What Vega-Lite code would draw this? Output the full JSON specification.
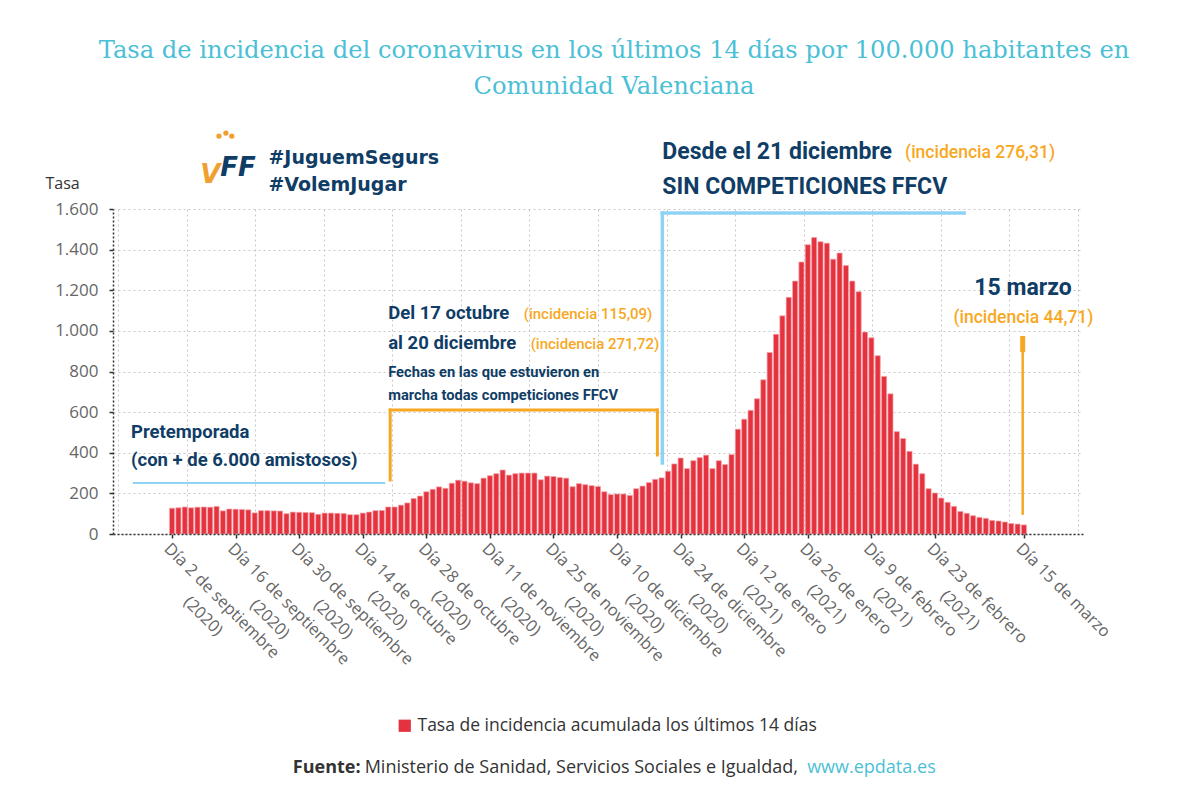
{
"$schema": "https://vega.github.io/schema/vega-lite/v6.json",
"width": 970, "height": 325,
"autosize": {"type": "none"},
"padding": {"left": 113, "top": 209, "right": 117, "bottom": 261},
"background": "white",
"config": {"view": {"stroke": null}, "font": "Open Sans"},
"title": {"text": ["Tasa de incidencia del coronavirus en los últimos 14 días por 100.000 habitantes en", "Comunidad Valenciana"], "font": "DejaVu Serif", "fontSize": 24.2, "fontWeight": "normal", "color": "#4bbfd6", "anchor": "middle", "frame": "group", "dx": 16, "offset": 31, "lineHeight": 36},
"resolve": {"axis": {"x": "independent", "y": "independent"}},
"layer": [
{
"data": {"values": [
{"n":0,"fecha":"2020-09-02","tasa":127},{"n":1,"fecha":"2020-09-03","tasa":129},{"n":2,"fecha":"2020-09-04","tasa":133},{"n":3,"fecha":"2020-09-07","tasa":129},{"n":4,"fecha":"2020-09-08","tasa":132},{"n":5,"fecha":"2020-09-09","tasa":133},{"n":6,"fecha":"2020-09-10","tasa":132},{"n":7,"fecha":"2020-09-11","tasa":136},{"n":8,"fecha":"2020-09-14","tasa":114},{"n":9,"fecha":"2020-09-15","tasa":123},
{"n":10,"fecha":"2020-09-16","tasa":122},{"n":11,"fecha":"2020-09-17","tasa":121},{"n":12,"fecha":"2020-09-18","tasa":119},{"n":13,"fecha":"2020-09-21","tasa":104},{"n":14,"fecha":"2020-09-22","tasa":115},{"n":15,"fecha":"2020-09-23","tasa":115},{"n":16,"fecha":"2020-09-24","tasa":114},{"n":17,"fecha":"2020-09-25","tasa":113},{"n":18,"fecha":"2020-09-28","tasa":100},{"n":19,"fecha":"2020-09-29","tasa":108},
{"n":20,"fecha":"2020-09-30","tasa":107},{"n":21,"fecha":"2020-10-01","tasa":106},{"n":22,"fecha":"2020-10-02","tasa":105},{"n":23,"fecha":"2020-10-05","tasa":97},{"n":24,"fecha":"2020-10-06","tasa":103},{"n":25,"fecha":"2020-10-07","tasa":103},{"n":26,"fecha":"2020-10-08","tasa":102},{"n":27,"fecha":"2020-10-09","tasa":101},{"n":28,"fecha":"2020-10-12","tasa":95},{"n":29,"fecha":"2020-10-13","tasa":95},
{"n":30,"fecha":"2020-10-14","tasa":103},{"n":31,"fecha":"2020-10-15","tasa":108},{"n":32,"fecha":"2020-10-16","tasa":115.09},{"n":33,"fecha":"2020-10-19","tasa":116},{"n":34,"fecha":"2020-10-20","tasa":133},{"n":35,"fecha":"2020-10-21","tasa":133},{"n":36,"fecha":"2020-10-22","tasa":142},{"n":37,"fecha":"2020-10-23","tasa":153},{"n":38,"fecha":"2020-10-26","tasa":175},{"n":39,"fecha":"2020-10-27","tasa":187},
{"n":40,"fecha":"2020-10-28","tasa":208},{"n":41,"fecha":"2020-10-29","tasa":220},{"n":42,"fecha":"2020-10-30","tasa":232},{"n":43,"fecha":"2020-11-02","tasa":225},{"n":44,"fecha":"2020-11-03","tasa":250},{"n":45,"fecha":"2020-11-04","tasa":265},{"n":46,"fecha":"2020-11-05","tasa":260},{"n":47,"fecha":"2020-11-06","tasa":252},{"n":48,"fecha":"2020-11-09","tasa":248},{"n":49,"fecha":"2020-11-10","tasa":275},
{"n":50,"fecha":"2020-11-11","tasa":287},{"n":51,"fecha":"2020-11-12","tasa":297},{"n":52,"fecha":"2020-11-13","tasa":315},{"n":53,"fecha":"2020-11-16","tasa":290},{"n":54,"fecha":"2020-11-17","tasa":297},{"n":55,"fecha":"2020-11-18","tasa":300},{"n":56,"fecha":"2020-11-19","tasa":300},{"n":57,"fecha":"2020-11-20","tasa":300},{"n":58,"fecha":"2020-11-23","tasa":267},{"n":59,"fecha":"2020-11-24","tasa":285},
{"n":60,"fecha":"2020-11-25","tasa":283},{"n":61,"fecha":"2020-11-26","tasa":278},{"n":62,"fecha":"2020-11-27","tasa":275},{"n":63,"fecha":"2020-11-30","tasa":233},{"n":64,"fecha":"2020-12-01","tasa":248},{"n":65,"fecha":"2020-12-02","tasa":243},{"n":66,"fecha":"2020-12-03","tasa":238},{"n":67,"fecha":"2020-12-04","tasa":234},{"n":68,"fecha":"2020-12-07","tasa":208},{"n":69,"fecha":"2020-12-09","tasa":194},
{"n":70,"fecha":"2020-12-10","tasa":197},{"n":71,"fecha":"2020-12-11","tasa":197},{"n":72,"fecha":"2020-12-14","tasa":190},{"n":73,"fecha":"2020-12-15","tasa":223},{"n":74,"fecha":"2020-12-16","tasa":236},{"n":75,"fecha":"2020-12-17","tasa":253},{"n":76,"fecha":"2020-12-18","tasa":269},{"n":77,"fecha":"2020-12-21","tasa":276.31},{"n":78,"fecha":"2020-12-22","tasa":309},{"n":79,"fecha":"2020-12-23","tasa":345},
{"n":80,"fecha":"2020-12-24","tasa":374},{"n":81,"fecha":"2020-12-28","tasa":322},{"n":82,"fecha":"2020-12-29","tasa":361},{"n":83,"fecha":"2020-12-30","tasa":376},{"n":84,"fecha":"2020-12-31","tasa":388},{"n":85,"fecha":"2021-01-04","tasa":322},{"n":86,"fecha":"2021-01-05","tasa":361},{"n":87,"fecha":"2021-01-07","tasa":342},{"n":88,"fecha":"2021-01-08","tasa":391},{"n":89,"fecha":"2021-01-11","tasa":516},
{"n":90,"fecha":"2021-01-12","tasa":565},{"n":91,"fecha":"2021-01-13","tasa":609},{"n":92,"fecha":"2021-01-14","tasa":666},{"n":93,"fecha":"2021-01-15","tasa":759},{"n":94,"fecha":"2021-01-18","tasa":894},{"n":95,"fecha":"2021-01-19","tasa":983},{"n":96,"fecha":"2021-01-20","tasa":1074},{"n":97,"fecha":"2021-01-21","tasa":1165},{"n":98,"fecha":"2021-01-22","tasa":1245},{"n":99,"fecha":"2021-01-25","tasa":1339},
{"n":100,"fecha":"2021-01-26","tasa":1424},{"n":101,"fecha":"2021-01-27","tasa":1460},{"n":102,"fecha":"2021-01-28","tasa":1439},{"n":103,"fecha":"2021-01-29","tasa":1432},{"n":104,"fecha":"2021-02-01","tasa":1353},{"n":105,"fecha":"2021-02-02","tasa":1383},{"n":106,"fecha":"2021-02-03","tasa":1322},{"n":107,"fecha":"2021-02-04","tasa":1245},{"n":108,"fecha":"2021-02-05","tasa":1193},{"n":109,"fecha":"2021-02-08","tasa":994},
{"n":110,"fecha":"2021-02-09","tasa":966},{"n":111,"fecha":"2021-02-10","tasa":878},{"n":112,"fecha":"2021-02-11","tasa":776},{"n":113,"fecha":"2021-02-12","tasa":690},{"n":114,"fecha":"2021-02-15","tasa":504},{"n":115,"fecha":"2021-02-16","tasa":470},{"n":116,"fecha":"2021-02-17","tasa":407},{"n":117,"fecha":"2021-02-18","tasa":344},{"n":118,"fecha":"2021-02-19","tasa":297},{"n":119,"fecha":"2021-02-22","tasa":223},
{"n":120,"fecha":"2021-02-23","tasa":202},{"n":121,"fecha":"2021-02-24","tasa":177},{"n":122,"fecha":"2021-02-25","tasa":156},{"n":123,"fecha":"2021-02-26","tasa":136},{"n":124,"fecha":"2021-03-01","tasa":111},{"n":125,"fecha":"2021-03-02","tasa":102},{"n":126,"fecha":"2021-03-03","tasa":90},{"n":127,"fecha":"2021-03-04","tasa":82},{"n":128,"fecha":"2021-03-05","tasa":77},{"n":129,"fecha":"2021-03-08","tasa":67},
{"n":130,"fecha":"2021-03-09","tasa":64},{"n":131,"fecha":"2021-03-10","tasa":59},{"n":132,"fecha":"2021-03-11","tasa":52},{"n":133,"fecha":"2021-03-12","tasa":49},{"n":134,"fecha":"2021-03-15","tasa":44.71}
]},
"mark": {"type": "bar", "orient": "vertical", "width": 5.1, "stroke": "#f3a5ab", "strokeWidth": 0.7},
"encoding": {
"x": {"field": "n", "type": "quantitative", "scale": {"domain": [-8.5, 142.5], "nice": false, "zero": false},
 "axis": {"orient": "bottom", "values": [0,10,20,30,40,50,60,70,80,90,100,110,120,134],
 "labelExpr": "{'0':['Día 2 de septiembre','\u200b'+pad('(2020)',18,'\u00a0','left')],'10':['Día 16 de septiembre','\u200b'+pad('(2020)',19,'\u00a0','left')],'20':['Día 30 de septiembre','\u200b'+pad('(2020)',19,'\u00a0','left')],'30':['Día 14 de octubre','\u200b'+pad('(2020)',16,'\u00a0','left')],'40':['Día 28 de octubre','\u200b'+pad('(2020)',16,'\u00a0','left')],'50':['Día 11 de noviembre','\u200b'+pad('(2020)',18,'\u00a0','left')],'60':['Día 25 de noviembre','\u200b'+pad('(2020)',18,'\u00a0','left')],'70':['Día 10 de diciembre','\u200b'+pad('(2020)',17,'\u00a0','left')],'80':['Día 24 de diciembre','\u200b'+pad('(2020)',17,'\u00a0','left')],'90':['Día 12 de enero','\u200b'+pad('(2021)',14,'\u00a0','left')],'100':['Día 26 de enero','\u200b'+pad('(2021)',14,'\u00a0','left')],'110':['Día 9 de febrero','\u200b'+pad('(2021)',15,'\u00a0','left')],'120':['Día 23 de febrero','\u200b'+pad('(2021)',16,'\u00a0','left')],'134':'Día 15 de marzo'}[datum.value]",
 "labelAngle": 45, "labelAlign": "left", "labelBaseline": "top", "labelFont": "Open Sans", "labelFontSize": 16.5, "labelColor": "#666666", "labelLineHeight": 24, "labelPadding": 2, "labelOverlap": false, "labelBound": false, "labelFlush": false, "labelLimit": 0,
 "tickSize": 4, "tickColor": "#333333", "tickWidth": 1.5, "domainColor": "#333333", "domainDash": [2,2], "domainWidth": 1.5, "grid": false, "title": null, "zindex": 1}},
"y": {"field": "tasa", "type": "quantitative", "stack": null, "scale": {"domain": [0, 1600], "nice": false},
 "axis": {"orient": "left", "values": [0,200,400,600,800,1000,1200,1400,1600], "labelExpr": "replace(format(datum.value, ','), ',', '.')", "labelFont": "Open Sans", "labelFontSize": 17, "labelColor": "#666666", "labelPadding": 11,
 "tickSize": 4, "tickColor": "#333333", "tickWidth": 1.5, "domainColor": "#333333", "domainDash": [2,2], "domainWidth": 1.5,
 "grid": true, "gridColor": "#c8c8c8", "gridDash": [2,3],
 "title": "Tasa", "titleAngle": 0, "titleAlign": "left", "titleBaseline": "middle", "titleX": -68, "titleY": -26, "titleFont": "Open Sans", "titleFontSize": 16, "titleFontWeight": "normal", "titleColor": "#333333"}},
"color": {"datum": "Tasa de incidencia acumulada los últimos 14 días", "type": "nominal", "scale": {"range": ["#e5323f"]},
 "legend": {"orient": "none", "legendX": 283, "legendY": 508, "title": null, "symbolType": "square", "symbolSize": 150, "symbolStrokeWidth": 0, "labelFont": "Open Sans", "labelFontSize": 17.5, "labelColor": "#333333", "labelLimit": 0, "padding": 0}}
}
},
{
"data": {"values": [{"x1": 34.31, "x2": 34.31, "y1": 266, "y2": 610}, {"x1": 34.31, "x2": 76.34, "y1": 610, "y2": 610}, {"x1": 76.34, "x2": 76.34, "y1": 610, "y2": 389}]},
"mark": {"type": "rule", "color": "#f7a823", "strokeWidth": 3, "strokeCap": "square"},
"encoding": {
"x": {"field": "x1", "type": "quantitative", "scale": {"domain": [-8.5, 142.5], "nice": false, "zero": false},
 "axis": {"orient": "bottom", "values": [-8.5, 2.2857, 13.0714, 23.8571, 34.6429, 45.4286, 56.2143, 67, 77.7857, 88.5714, 99.3571, 110.1429, 120.9286, 131.7143, 142.5], "grid": true, "gridColor": "#c8c8c8", "gridDash": [2,3], "labels": false, "ticks": false, "domain": false, "title": null}},
"x2": {"field": "x2"},
"y": {"field": "y1", "type": "quantitative", "scale": {"domain": [0, 1600], "nice": false}, "axis": null},
"y2": {"field": "y2"}
}
},
{
"data": {"values": [{"x1": 133.8, "x2": 133.8, "y1": 94, "y2": 975}]},
"mark": {"type": "rule", "color": "#f7a823", "strokeWidth": 2.5},
"encoding": {
"x": {"field": "x1", "type": "quantitative", "scale": {"domain": [-8.5, 142.5], "nice": false, "zero": false}, "axis": null},
"x2": {"field": "x2"},
"y": {"field": "y1", "type": "quantitative", "scale": {"domain": [0, 1600], "nice": false}, "axis": null},
"y2": {"field": "y2"}
}
},
{
"data": {"values": [{"x1": 133.8, "x2": 133.8, "y1": 895, "y2": 975}]},
"mark": {"type": "rule", "color": "#f7a823", "strokeWidth": 5},
"encoding": {
"x": {"field": "x1", "type": "quantitative", "scale": {"domain": [-8.5, 142.5], "nice": false, "zero": false}, "axis": null},
"x2": {"field": "x2"},
"y": {"field": "y1", "type": "quantitative", "scale": {"domain": [0, 1600], "nice": false}, "axis": null},
"y2": {"field": "y2"}
}
},
{
"data": {"values": [{"x1": -6.17, "x2": 33.53, "y1": 251, "y2": 251}]},
"mark": {"type": "rule", "color": "#8fd3f4", "strokeWidth": 2},
"encoding": {
"x": {"field": "x1", "type": "quantitative", "scale": {"domain": [-8.5, 142.5], "nice": false, "zero": false}, "axis": null},
"x2": {"field": "x2"},
"y": {"field": "y1", "type": "quantitative", "scale": {"domain": [0, 1600], "nice": false}, "axis": null},
"y2": {"field": "y2"}
}
},
{
"data": {"values": [{"x1": 77.12, "x2": 77.12, "y1": 350, "y2": 1580}, {"x1": 77.12, "x2": 124.6, "y1": 1580, "y2": 1580}]},
"mark": {"type": "rule", "color": "#8fd3f4", "strokeWidth": 3.5, "strokeCap": "square"},
"encoding": {
"x": {"field": "x1", "type": "quantitative", "scale": {"domain": [-8.5, 142.5], "nice": false, "zero": false}, "axis": null},
"x2": {"field": "x2"},
"y": {"field": "y1", "type": "quantitative", "scale": {"domain": [0, 1600], "nice": false}, "axis": null},
"y2": {"field": "y2"}
}
},
{
"data": {"values": [{"x": -6.45, "y": 502, "texto": "Pretemporada"}, {"x": -6.45, "y": 364, "texto": "(con + de 6.000 amistosos)"}, {"x": 34.0, "y": 1088, "texto": "Del 17 octubre"}, {"x": 34.0, "y": 940, "texto": "al 20 diciembre"}]},
"mark": {"type": "text", "align": "left", "baseline": "middle", "font": "Roboto", "fontWeight": "bold", "fontSize": 18.5, "color": "#103d66"},
"encoding": {
"x": {"field": "x", "type": "quantitative", "scale": {"domain": [-8.5, 142.5], "nice": false, "zero": false}, "axis": null},
"y": {"field": "y", "type": "quantitative", "scale": {"domain": [0, 1600], "nice": false}, "axis": null},
"text": {"field": "texto"}
}
},
{
"data": {"values": [{"x": 77.12, "y": 1881, "texto": "Desde el 21 diciembre"}, {"x": 77.12, "y": 1708, "texto": "SIN COMPETICIONES FFCV"}, {"x": 126.2, "y": 1211, "texto": "15 marzo"}]},
"mark": {"type": "text", "align": "left", "baseline": "middle", "font": "Roboto", "fontWeight": "bold", "fontSize": 23, "color": "#103d66"},
"encoding": {
"x": {"field": "x", "type": "quantitative", "scale": {"domain": [-8.5, 142.5], "nice": false, "zero": false}, "axis": null},
"y": {"field": "y", "type": "quantitative", "scale": {"domain": [0, 1600], "nice": false}, "axis": null},
"text": {"field": "texto"}
}
},
{
"data": {"values": [{"x": 34.0, "y": 793, "texto": "Fechas en las que estuvieron en"}, {"x": 34.0, "y": 679, "texto": "marcha todas competiciones FFCV"}]},
"mark": {"type": "text", "align": "left", "baseline": "middle", "font": "Roboto", "fontWeight": "bold", "fontSize": 14.7, "color": "#103d66"},
"encoding": {
"x": {"field": "x", "type": "quantitative", "scale": {"domain": [-8.5, 142.5], "nice": false, "zero": false}, "axis": null},
"y": {"field": "y", "type": "quantitative", "scale": {"domain": [0, 1600], "nice": false}, "axis": null},
"text": {"field": "texto"}
}
},
{
"data": {"values": [{"x": 55.32, "y": 1083, "texto": "(incidencia 115,09)"}, {"x": 56.41, "y": 935, "texto": "(incidencia 271,72)"}]},
"mark": {"type": "text", "align": "left", "baseline": "middle", "font": "Roboto", "fontWeight": 500, "fontSize": 15, "color": "#f7a823"},
"encoding": {
"x": {"field": "x", "type": "quantitative", "scale": {"domain": [-8.5, 142.5], "nice": false, "zero": false}, "axis": null},
"y": {"field": "y", "type": "quantitative", "scale": {"domain": [0, 1600], "nice": false}, "axis": null},
"text": {"field": "texto"}
}
},
{
"data": {"values": [{"x": 115.3, "y": 1876, "texto": "(incidencia 276,31)"}, {"x": 122.9, "y": 1063, "texto": "(incidencia 44,71)"}]},
"mark": {"type": "text", "align": "left", "baseline": "middle", "font": "Roboto", "fontWeight": 500, "fontSize": 17.5, "color": "#f7a823"},
"encoding": {
"x": {"field": "x", "type": "quantitative", "scale": {"domain": [-8.5, 142.5], "nice": false, "zero": false}, "axis": null},
"y": {"field": "y", "type": "quantitative", "scale": {"domain": [0, 1600], "nice": false}, "axis": null},
"text": {"field": "texto"}
}
},
{
"data": {"values": [{"x": 15.16, "y": 1851, "texto": "#JuguemSegurs"}, {"x": 15.16, "y": 1718, "texto": "#VolemJugar"}]},
"mark": {"type": "text", "align": "left", "baseline": "middle", "font": "DejaVu Sans", "fontWeight": "bold", "fontSize": 19, "color": "#103d66"},
"encoding": {
"x": {"field": "x", "type": "quantitative", "scale": {"domain": [-8.5, 142.5], "nice": false, "zero": false}, "axis": null},
"y": {"field": "y", "type": "quantitative", "scale": {"domain": [0, 1600], "nice": false}, "axis": null},
"text": {"field": "texto"}
}
},
{
"data": {"values": [{"x": 4.42, "y": 1767, "texto": "V"}]},
"mark": {"type": "text", "align": "left", "baseline": "middle", "font": "DejaVu Sans", "fontWeight": "bold", "fontStyle": "italic", "fontSize": 26, "color": "#f0a030"},
"encoding": {
"x": {"field": "x", "type": "quantitative", "scale": {"domain": [-8.5, 142.5], "nice": false, "zero": false}, "axis": null},
"y": {"field": "y", "type": "quantitative", "scale": {"domain": [0, 1600], "nice": false}, "axis": null},
"text": {"field": "texto"}
}
},
{
"data": {"values": [{"x": 7.6, "y": 1802, "texto": "FF"}]},
"mark": {"type": "text", "align": "left", "baseline": "middle", "font": "DejaVu Sans", "fontWeight": "bold", "fontStyle": "italic", "fontSize": 26, "color": "#103d66"},
"encoding": {
"x": {"field": "x", "type": "quantitative", "scale": {"domain": [-8.5, 142.5], "nice": false, "zero": false}, "axis": null},
"y": {"field": "y", "type": "quantitative", "scale": {"domain": [0, 1600], "nice": false}, "axis": null},
"text": {"field": "texto"}
}
},
{
"data": {"values": [{"x": 7.38, "y": 1959}, {"x": 8.47, "y": 1974}, {"x": 9.4, "y": 1959}]},
"mark": {"type": "circle", "size": 28, "color": "#f0a030", "opacity": 1},
"encoding": {
"x": {"field": "x", "type": "quantitative", "scale": {"domain": [-8.5, 142.5], "nice": false, "zero": false}, "axis": null},
"y": {"field": "y", "type": "quantitative", "scale": {"domain": [0, 1600], "nice": false}, "axis": null}
}
},
{
"data": {"values": [{"x": 19.0, "y": -1152, "texto": "Fuente:"}]},
"mark": {"type": "text", "align": "left", "baseline": "middle", "font": "Open Sans", "fontWeight": "bold", "fontSize": 18, "color": "#333333"},
"encoding": {
"x": {"field": "x", "type": "quantitative", "scale": {"domain": [-8.5, 142.5], "nice": false, "zero": false}, "axis": null},
"y": {"field": "y", "type": "quantitative", "scale": {"domain": [0, 1600], "nice": false}, "axis": null},
"text": {"field": "texto"}
}
},
{
"data": {"values": [{"x": 30.3, "y": -1152, "texto": "Ministerio de Sanidad, Servicios Sociales e Igualdad,"}]},
"mark": {"type": "text", "align": "left", "baseline": "middle", "font": "Open Sans", "fontSize": 18, "color": "#333333"},
"encoding": {
"x": {"field": "x", "type": "quantitative", "scale": {"domain": [-8.5, 142.5], "nice": false, "zero": false}, "axis": null},
"y": {"field": "y", "type": "quantitative", "scale": {"domain": [0, 1600], "nice": false}, "axis": null},
"text": {"field": "texto"}
}
},
{
"data": {"values": [{"x": 99.9, "y": -1152, "texto": "www.epdata.es"}]},
"mark": {"type": "text", "align": "left", "baseline": "middle", "font": "Open Sans", "fontSize": 18, "color": "#4bbfd6"},
"encoding": {
"x": {"field": "x", "type": "quantitative", "scale": {"domain": [-8.5, 142.5], "nice": false, "zero": false}, "axis": null},
"y": {"field": "y", "type": "quantitative", "scale": {"domain": [0, 1600], "nice": false}, "axis": null},
"text": {"field": "texto"}
}
}
]
}
